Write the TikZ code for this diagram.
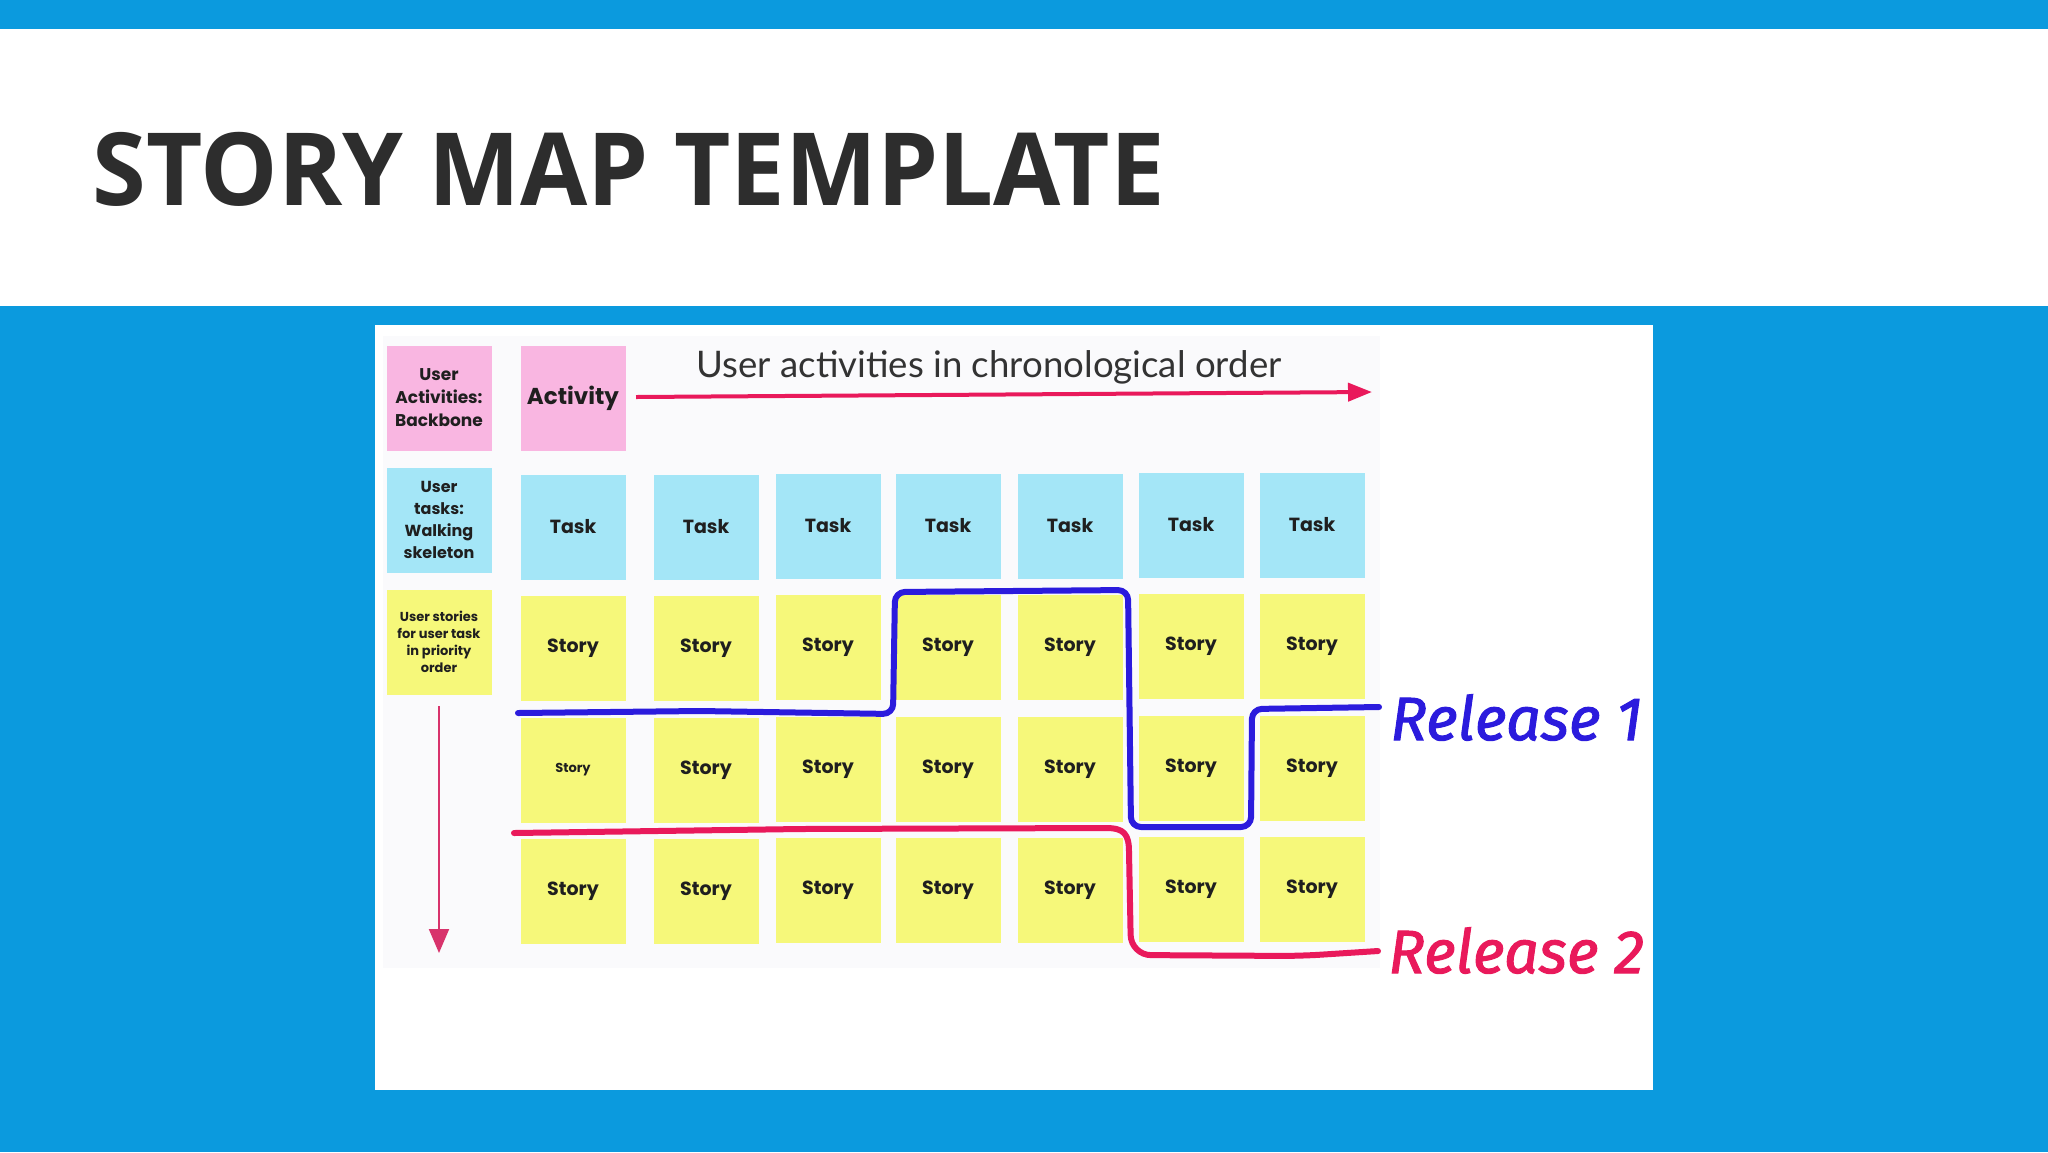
\documentclass[tikz,border=0pt]{standalone}
\usepackage{fontspec}
\setmainfont{Poppins}
\newfontfamily\titlefont{Open Sans}[FakeStretch=0.965]
\newfontfamily\headfont{Lato}
\newfontfamily\handfont{Fira Sans}[ItalicFeatures={FakeBold=1.6}]
\usetikzlibrary{arrows.meta,positioning}
\definecolor{blue500}{HTML}{0B9ADE}
\definecolor{pink100}{HTML}{F9B6E1}
\definecolor{cyan100}{HTML}{A4E6F7}
\definecolor{yellow200}{HTML}{F6F87A}
\definecolor{gray900}{HTML}{2D2D2D}
\definecolor{gray50}{HTML}{FAFAFC}
\definecolor{indigo600}{HTML}{2B1BDD}
\definecolor{pink600}{HTML}{E9195B}
\definecolor{pink400}{HTML}{D8336C}
\tikzstyle{nota}=[rectangle, minimum width=52.5pt, minimum height=52.5pt, inner sep=1pt, align=center, text=black!88, font=\bfseries\fontsize{9.5}{11}\selectfont]
\tikzstyle{atividade}=[nota, fill=pink100]
\tikzstyle{tarefa}=[nota, fill=cyan100]
\tikzstyle{historia}=[nota, fill=yellow200]
\tikzstyle{entrega}=[line width=3pt, line join=round, line cap=round]
\tikzstyle{rotulo}=[inner sep=0pt, anchor=base west, font=\handfont\itshape\fontsize{30.5}{34}\selectfont]

\begin{document}
\begin{tikzpicture}[x=0.5pt, y=-0.5pt]
		\useasboundingbox (0,0) rectangle (2048,1152);
		% slide
		\fill[blue500] (0,0) rectangle (2048,1152);
		\fill[white] (0,29) rectangle (2048,306);
		\fill[white] (375,325) rectangle (1653,1090);
		\fill[gray50] (383,336) rectangle (1380,968);
		\node[anchor=base west, inner sep=0pt, text=gray900, font=\titlefont\bfseries\fontsize{50.5}{60}\selectfont](titulo) at (92,205) {STORY MAP TEMPLATE};

		% legend column
		\node[atividade, font=\bfseries\fontsize{8.5}{11.5}\selectfont](leg1) at (439,398) {User\\Activities:\\Backbone};
		\node[tarefa, font=\bfseries\fontsize{8}{11}\selectfont](leg2) at (439,520) {User\\tasks:\\Walking\\skeleton};
		\node[historia, font=\bfseries\fontsize{6.5}{8.4}\selectfont](leg3) at (439,642) {User stories\\for user task\\in priority\\order};

		% backbone
		\node[atividade, font=\bfseries\fontsize{11.5}{14}\selectfont](act) at (573,398) {Activity};
		\node[anchor=base, inner sep=0pt, text=black!80, font=\headfont\fontsize{18.3}{21}\selectfont](cronologia) at (989,377) {User activities in chronological order};

		% walking skeleton
		\node[tarefa](t1) at (573,527) {Task};
		\node[tarefa](t2) at (706,527) {Task};
		\node[tarefa](t3) at (828,526) {Task};
		\node[tarefa](t4) at (948,526) {Task};
		\node[tarefa](t5) at (1070,526) {Task};
		\node[tarefa](t6) at (1191,525) {Task};
		\node[tarefa](t7) at (1312,525) {Task};

		% stories
		\node[historia](s11) at (573,648) {Story};
		\node[historia](s12) at (706,648) {Story};
		\node[historia](s13) at (828,647) {Story};
		\node[historia](s14) at (948,647) {Story};
		\node[historia](s15) at (1070,647) {Story};
		\node[historia](s16) at (1191,646) {Story};
		\node[historia](s17) at (1312,646) {Story};
		\node[historia, font=\bfseries\fontsize{6.5}{8}\selectfont](s21) at (573,770) {Story};
		\node[historia](s22) at (706,770) {Story};
		\node[historia](s23) at (828,769) {Story};
		\node[historia](s24) at (948,769) {Story};
		\node[historia](s25) at (1070,769) {Story};
		\node[historia](s26) at (1191,768) {Story};
		\node[historia](s27) at (1312,768) {Story};
		\node[historia](s31) at (573,891) {Story};
		\node[historia](s32) at (706,891) {Story};
		\node[historia](s33) at (828,890) {Story};
		\node[historia](s34) at (948,890) {Story};
		\node[historia](s35) at (1070,890) {Story};
		\node[historia](s36) at (1191,889) {Story};
		\node[historia](s37) at (1312,889) {Story};

		% arrows
		\coordinate (h0) at (636,397);
		\coordinate (h1) at (1372,392);
		\coordinate (v0) at (439,706);
		\coordinate (v1) at (439,953);
		\draw[line width=2pt, pink600, -{Triangle[length=12pt, width=9pt]}] (h0) -- (h1);
		\draw[line width=1pt, pink400, -{Triangle[length=12pt, width=10pt]}] (v0) -- (v1);

		% releases
		\coordinate (r1a) at (518,713);
		\coordinate (r1b) at (1379,707);
		\coordinate (r2a) at (514,833);
		\coordinate (r2b) at (1378,951);
		\path[draw=indigo600, entrega, rounded corners=5pt]
			(r1a) -- (700,711) -- (893,714) -- (895,592) -- (1128,590)
			-- (1131,827) -- (1251,827) -- (1252,709) -- (r1b);
		\path[draw=pink600, entrega]
			(r2a) -- (800,829) -- (1106,828) .. controls (1124,828) and (1129,834) .. (1129,852)
			[rounded corners=10pt] -- (1131,955) -- (1300,956) -- (r2b);
		\node[rotulo, text=indigo600](rel1) at (1390,740) {Release 1};
		\node[rotulo, text=pink600](rel2) at (1388,973) {Release 2};
	\end{tikzpicture}
\end{document}
